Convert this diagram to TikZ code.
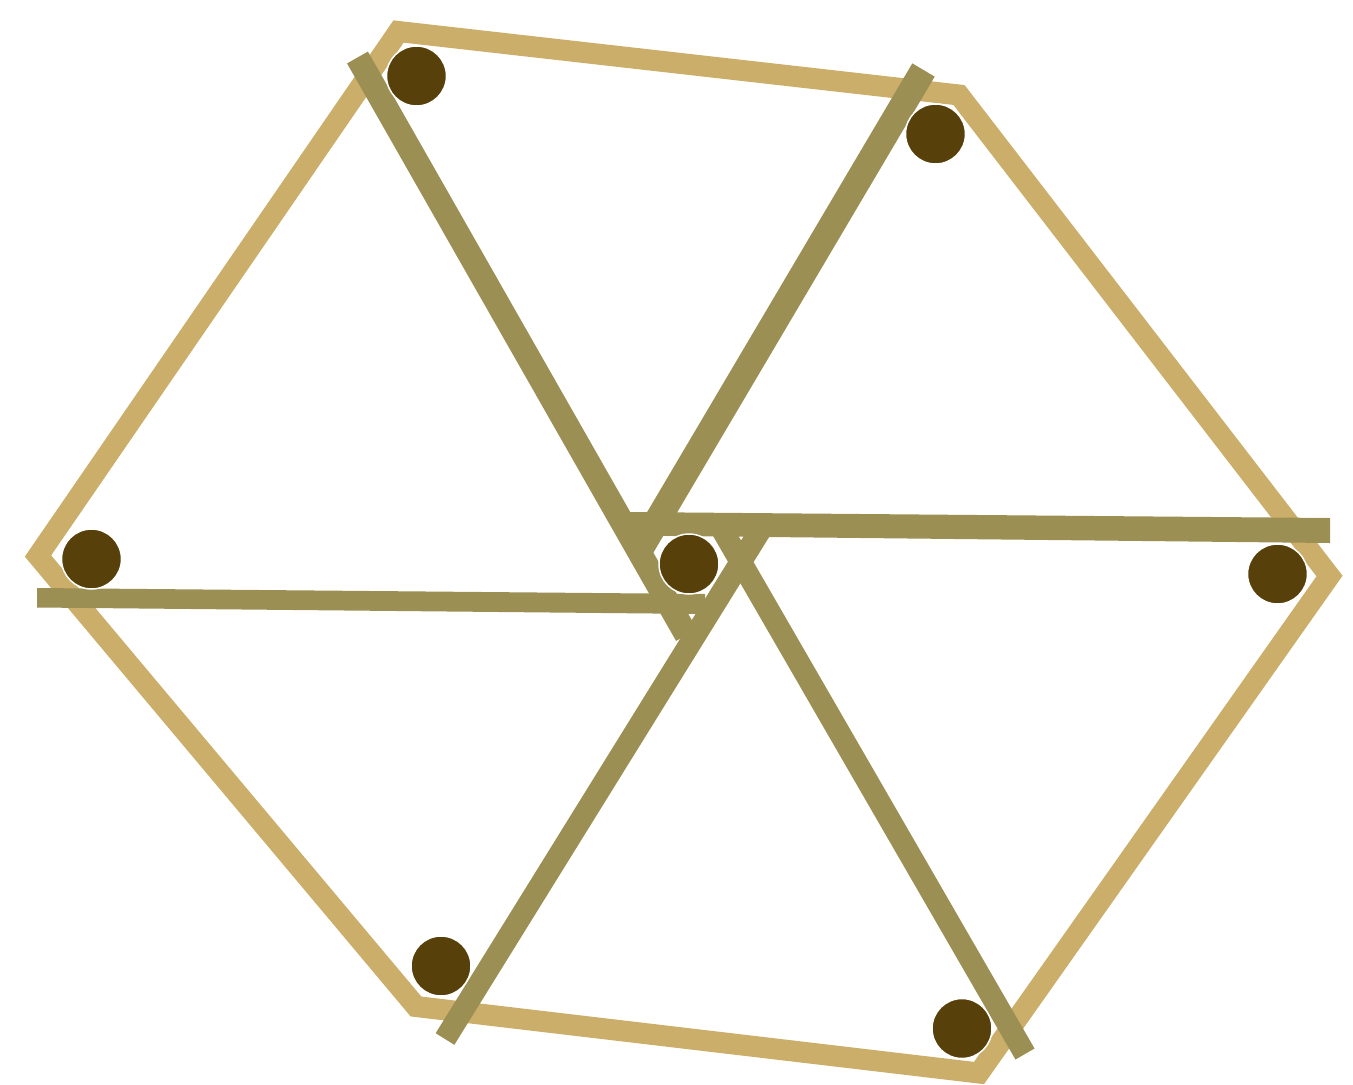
\documentclass[tikz,border=0pt]{standalone}
\definecolor{tanstick}{RGB}{203,174,106}
\definecolor{olivestick}{RGB}{156,143,84}
\definecolor{ballc}{RGB}{87,64,10}
\begin{document}
\begin{tikzpicture}[x=1pt,y=-1pt,
  outerstick/.style={draw=tanstick, line width=21pt, line join=miter, miter limit=10},
  innerstick/.style={draw=olivestick, line width=#1, line cap=butt},
  innerbar/.style={fill=olivestick},
  ball/.style={circle, fill=ballc, draw=white, line width=1.5pt, minimum size=60pt, inner sep=0pt}]
\useasboundingbox (0,0) rectangle (1353,1085);
% outer hexagon
\coordinate (h1) at (398.5,31.5);
\coordinate (h2) at (959,95);
\coordinate (h3) at (1329.5,576);
\coordinate (h4) at (979,1073);
\coordinate (h5) at (416,1006.5);
\coordinate (h6) at (38,556);
\draw[outerstick] (h1) -- (h2) -- (h3) -- (h4) -- (h5) -- (h6) -- cycle;
% horizontal bars
\coordinate (a1) at (627,512);
\coordinate (a2) at (1330,518);
\coordinate (a3) at (1330,543);
\coordinate (a4) at (627,535.5);
\fill[innerbar] (a1) -- (a2) -- (a3) -- (a4) -- cycle;
\coordinate (c1) at (37,588);
\coordinate (c2) at (705,594);
\coordinate (c3) at (705,614);
\coordinate (c4) at (37,607.5);
\fill[innerbar] (c1) -- (c2) -- (c3) -- (c4) -- cycle;
% diagonal sticks
\coordinate (d2a) at (923.5,70);
\coordinate (d2b) at (641,548);
\draw[innerstick=26pt] (d2a) -- (d2b);
\coordinate (d1a) at (357.5,57.5);
\coordinate (d1b) at (686.5,635);
\draw[innerstick=24pt] (d1a) -- (d1b);
\coordinate (d3a) at (1025,1054);
\coordinate (d3b) at (720,526);
\draw[innerstick=22pt] (d3a) -- (d3b);
\coordinate (d4a) at (445,1039);
\coordinate (d4b) at (763,526);
\draw[innerstick=22pt] (d4a) -- (d4b);
% balls
\node[ball] (b1) at (416.5,76) {};
\node[ball] (b2) at (935.5,134) {};
\node[ball] (b3) at (91.5,559) {};
\node[ball] (b4) at (689,564) {};
\node[ball] (b5) at (1277.5,574) {};
\node[ball] (b6) at (441,966) {};
\node[ball] (b7) at (962,1028.5) {};
\end{tikzpicture}
\end{document}
